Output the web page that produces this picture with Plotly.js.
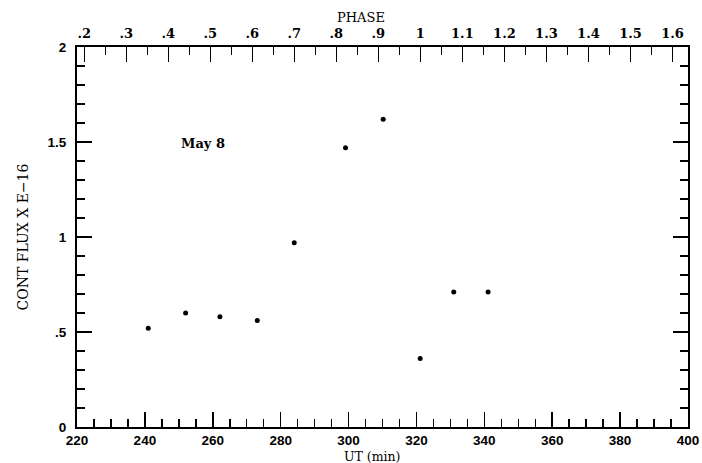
<!DOCTYPE html>
<html>
<head>
<meta charset="utf-8">
<script src="https://cdn.plot.ly/plotly-3.0.1.min.js"></script>
<style>html,body{margin:0;padding:0;background:#fff;}#chart{width:702px;height:463px;}</style>
</head>
<body>
<div id="chart"></div>
<script>
// Data
const utMin = [241.0, 252.0, 262.1, 273.1, 284.0, 299.1, 310.2, 321.1, 331.0, 341.1];
const contFlux = [0.52, 0.60, 0.58, 0.56, 0.97, 1.47, 1.62, 0.36, 0.71, 0.71];

const yTickVals = [0, 0.5, 1, 1.5, 2];
const yTickText = ['0', '.5', '1', '1.5', '2'];
const phaseTickVals = [0.2, 0.3, 0.4, 0.5, 0.6, 0.7, 0.8, 0.9, 1.0, 1.1, 1.2, 1.3, 1.4, 1.5, 1.6];
const phaseTickText = ['.2', '.3', '.4', '.5', '.6', '.7', '.8', '.9', '1', '1.1', '1.2', '1.3', '1.4', '1.5', '1.6'];
const phaseRange = [0.1827, 1.637];

const sansFont = {family: 'Liberation Sans, Arial, sans-serif', size: 13.5, color: '#000', weight: 'bold'};
const serifFont = {family: 'DejaVu Serif, serif', size: 13, color: '#000'};

const trace = {
  x: utMin, y: contFlux, type: 'scatter', mode: 'markers',
  marker: {color: '#000', size: 5},
  xaxis: 'x', yaxis: 'y', showlegend: false, hoverinfo: 'skip'
};
// invisible trace to activate the phase axis
const phaseTrace = {
  x: phaseRange, y: [null, null], type: 'scatter', mode: 'markers',
  xaxis: 'x2', yaxis: 'y', showlegend: false, hoverinfo: 'skip'
};

const layout = {
  width: 702, height: 463,
  margin: {l: 77, r: 14, t: 47, b: 36},
  paper_bgcolor: '#fff', plot_bgcolor: '#fff',
  showlegend: false,
  xaxis: {
    range: [220, 400], dtick: 20, tick0: 220,
    ticks: 'inside', ticklen: 15, tickwidth: 1.5, tickcolor: '#000',
    minor: {dtick: 5, tick0: 220, ticks: 'inside', ticklen: 8, tickwidth: 1.5, tickcolor: '#000', showgrid: false},
    showline: true, linecolor: '#000', linewidth: 2,
    showgrid: false, zeroline: false,
    tickfont: sansFont, ticklabelstandoff: 0
  },
  xaxis2: {
    overlaying: 'x', side: 'top', range: phaseRange,
    tickmode: 'array', tickvals: phaseTickVals, ticktext: phaseTickText,
    ticks: 'inside', ticklen: 15, tickwidth: 1.5, tickcolor: '#000',
    minor: {dtick: 0.1, tick0: 0.15, ticks: 'inside', ticklen: 8, tickwidth: 1.5, tickcolor: '#000', showgrid: false},
    showline: true, linecolor: '#000', linewidth: 2,
    showgrid: false, zeroline: false,
    tickfont: {family: 'DejaVu Serif, serif', size: 13, color: '#000', weight: 'bold'}, ticklabelstandoff: 2
  },
  yaxis: {
    range: [0, 2], tickmode: 'array', tickvals: yTickVals, ticktext: yTickText,
    ticks: 'inside', ticklen: 15, tickwidth: 1.5, tickcolor: '#000',
    minor: {dtick: 0.1, tick0: 0, ticks: 'inside', ticklen: 8, tickwidth: 1.5, tickcolor: '#000', showgrid: false},
    showline: true, linecolor: '#000', linewidth: 2, mirror: 'ticks',
    showgrid: false, zeroline: false,
    tickfont: sansFont, ticklabelstandoff: 6,
    title: {text: 'CONT FLUX X E\u221216', font: {family: 'DejaVu Serif, serif', size: 14, color: '#000'}, standoff: 16}
  },
  annotations: [
    {text: 'PHASE', xref: 'paper', yref: 'paper', x: 0.465, y: 1, yshift: 30,
     xanchor: 'center', yanchor: 'middle', showarrow: false, font: serifFont},
    {text: 'UT (min)', xref: 'paper', yref: 'paper', x: 0.4839, y: 0, yshift: -29,
     xanchor: 'center', yanchor: 'middle', showarrow: false,
     font: {family: 'DejaVu Serif, serif', size: 12.5, color: '#000'}},
    {text: '<b>May 8</b>', xref: 'x', yref: 'y', x: 257.1, y: 1.493,
     xanchor: 'center', yanchor: 'middle', showarrow: false,
     font: {family: 'DejaVu Serif, serif', size: 13, color: '#000'}}
  ]
};

Plotly.newPlot('chart', [trace, phaseTrace], layout, {staticPlot: true, displayModeBar: false});
</script>
</body>
</html>
